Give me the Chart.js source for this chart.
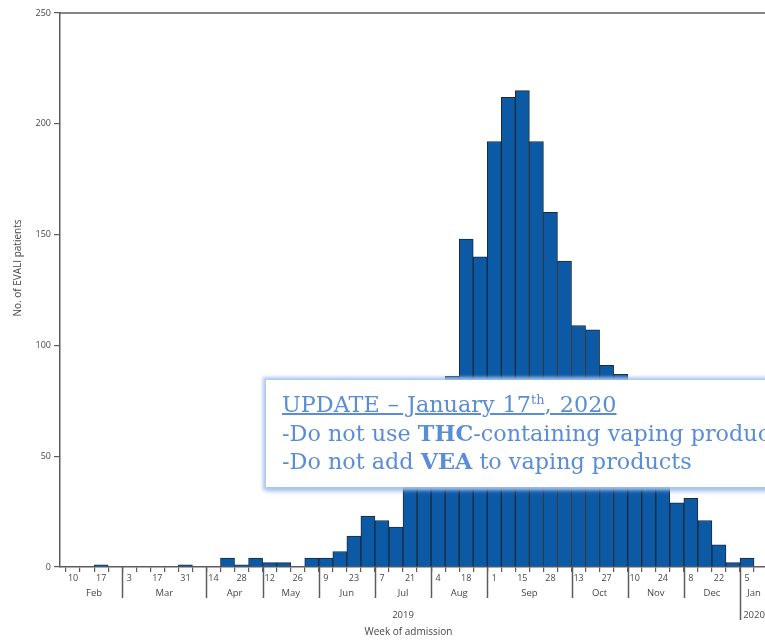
<!DOCTYPE html>
<html>
<head>
<meta charset="utf-8">
<script src="https://cdn.jsdelivr.net/npm/chart.js@4"></script>
<style>
  html, body { margin: 0; padding: 0; background: #fff; overflow: hidden; }
  #wrap { position: relative; width: 765px; height: 640px; overflow: hidden; }
  #notice {
    position: absolute; left: 266px; top: 380px; width: 540px; height: 107px;
    box-sizing: border-box; padding: 10px 0 0 16px; background: #fff;
    box-shadow: 0 0 3px 3px rgba(170, 198, 238, 0.9), 0 4px 5px rgba(105, 150, 220, 0.55);
    font-family: 'DejaVu Serif', serif; font-size: 22.3px; line-height: 28.5px;
    color: #5a8dd7; white-space: nowrap;
  }
  #notice .head { text-decoration: underline; text-decoration-thickness: 1.5px; word-spacing: 1px; }
  #notice sup { font-size: 13px; line-height: 0; vertical-align: 8px; }
</style>
</head>
<body>
<div id="wrap">
  <canvas id="chart" width="765" height="640"></canvas>
  <div id="notice">
    <div class="head">UPDATE – January 17<sup>th</sup>, 2020</div>
    <div>-Do not use <b>THC</b>-containing vaping products</div>
    <div>-Do not add <b>VEA</b> to vaping products</div>
  </div>
</div>
<script>
// one entry per week of admission, Feb 2019 -> Jan 2020
const weekDays = ['10','','17','','3','','17','','31','','14','','28','','12','','26','','9','','23','',
                  '7','','21','','4','','18','','1','','15','','28','','13','','27','','10','','24','',
                  '8','','22','','5'];
const patients = [0, 0, 1, 0, 0, 0, 0, 0, 1, 0, 0, 4, 1, 4, 2, 2, 0, 4, 4, 7, 14, 23,
                  21, 18, 42, 55, 70, 86, 148, 140, 192, 212, 215, 192, 160, 138, 109, 107, 91, 87, 70, 58,
                  45, 29, 31, 21, 10, 2, 4];
const monthNames = ['Feb','Mar','Apr','May','Jun','Jul','Aug','Sep','Oct','Nov','Dec','Jan'];
const monthStart = [0, 4, 10, 14, 18, 22, 26, 30, 36, 40, 44, 48];
const yearNames = ['2019', '2020'];
const yearStart = [0, 48];

const axisColor = '#5c5c5c', textColor = '#474747';
const tickFont = { family: 'Open Sans', size: 9 };

const axisDecor = {
    id: 'axisDecor',
    afterDraw(chart) {
        const { ctx, chartArea, scales: { x } } = chart;
        const base = chartArea.bottom, end = weekDays.length + 1;
        ctx.save();
        ctx.strokeStyle = axisColor;
        ctx.lineWidth = 1.5;
        ctx.beginPath();
        ctx.moveTo(chartArea.left, chartArea.top);
        ctx.lineTo(chartArea.right, chartArea.top);
        ctx.stroke();

        ctx.fillStyle = textColor;
        ctx.textAlign = 'center';
        ctx.textBaseline = 'middle';
        ctx.font = '9.5px "Open Sans"';
        monthNames.forEach((m, i) => {
            const s = monthStart[i] - 0.5, e = (monthStart[i + 1] ?? end) - 0.5;
            if (i > 0) {
                const px = Math.round(x.getPixelForValue(s)) + 0.5;
                ctx.beginPath();
                ctx.moveTo(px, base);
                ctx.lineTo(px, base + (yearStart.includes(monthStart[i]) ? 53 : 31));
                ctx.stroke();
            }
            ctx.fillText(m, x.getPixelForValue((s + e) / 2), base + 26);
        });
        yearNames.forEach((y, i) => {
            const s = yearStart[i] - 0.5, e = (yearStart[i + 1] ?? end) - 0.5;
            ctx.fillText(y, x.getPixelForValue((s + e) / 2), base + 48);
        });

        ctx.font = '10px "Open Sans"';
        ctx.fillText('Week of admission', (chartArea.left + chartArea.right) / 2 - 4, base + 65);
        ctx.translate(18, 268);
        ctx.rotate(-Math.PI / 2);
        ctx.fillText('No. of EVALI patients', 0, 0);
        ctx.restore();
    }
};

new Chart(document.getElementById('chart').getContext('2d'), {
    type: 'bar',
    data: {
        datasets: [{
            data: patients.map((v, i) => ({ x: i, y: v })),
            backgroundColor: '#0c5aa6',
            borderColor: '#1c2a3a',
            borderWidth: 1,
            barPercentage: 1,
            categoryPercentage: 1
        }]
    },
    options: {
        responsive: false,
        animation: false,
        layout: { padding: { top: 13, left: 0, right: 0, bottom: 0 } },
        plugins: { legend: { display: false }, tooltip: { enabled: false } },
        scales: {
            x: {
                type: 'linear',
                offset: false,
                min: -0.93,
                max: 49.28,
                afterBuildTicks: s => { s.ticks = weekDays.map((_, i) => ({ value: i })); },
                afterFit: s => { s.height = 73; },
                grid: { drawOnChartArea: false, tickLength: 5, color: axisColor, lineWidth: 1.2 },
                border: { color: axisColor, width: 1.5 },
                ticks: {
                    autoSkip: false, maxRotation: 0, padding: 1,
                    font: tickFont, color: textColor,
                    callback: v => weekDays[v] ?? ''
                }
            },
            y: {
                min: 0,
                max: 250,
                afterFit: s => { s.width = 60; },
                grid: { drawOnChartArea: false, tickLength: 6, color: axisColor, lineWidth: 1.2 },
                border: { color: axisColor, width: 1.5 },
                ticks: { stepSize: 50, padding: 3, font: tickFont, color: textColor }
            }
        }
    },
    plugins: [axisDecor]
});
</script>
</body>
</html>
